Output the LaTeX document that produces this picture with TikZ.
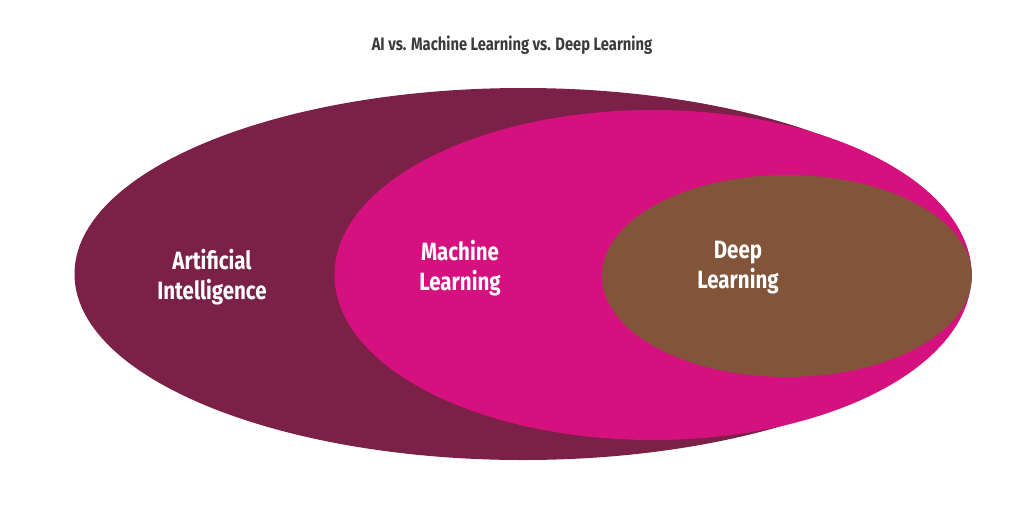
\documentclass[tikz,border=0pt]{standalone}
\usepackage{fontspec}
\setmainfont{Fira Sans}
\usetikzlibrary{shapes.geometric}
\definecolor{aic}{HTML}{7B2046}
\definecolor{mlc}{HTML}{D4117E}
\definecolor{dlc}{HTML}{82553A}
\definecolor{titlec}{HTML}{3A3A3A}
\begin{document}
\begin{tikzpicture}[x=1pt,y=-1pt,
  blob/.style={ellipse,draw=none,inner sep=0pt},
  lab/.style={text=white,font=\fontsize{25}{30}\selectfont\bfseries,align=center,xscale=0.82}]
\useasboundingbox (0,0) rectangle (1024,512);
\node[blob,fill=aic,minimum width=897pt,minimum height=372pt] (ai) at (523,274) {};
\node[blob,fill=mlc,minimum width=637pt,minimum height=330pt] (ml) at (653,275) {};
\node[blob,fill=dlc,minimum width=370pt,minimum height=202pt] (dl) at (787,276) {};
\node[lab] (tai) at (212,277) {Artificial\\Intelligence};
\node[lab] (tml) at (460,268) {Machine\\Learning};
\node[lab] (tdl) at (738,268) {Deep\\Learning};
\node[text=titlec,font=\fontsize{18}{22}\selectfont\bfseries,xscale=0.82] (title) at (512,45) {AI vs. Machine Learning vs. Deep Learning};
\end{tikzpicture}
\end{document}
